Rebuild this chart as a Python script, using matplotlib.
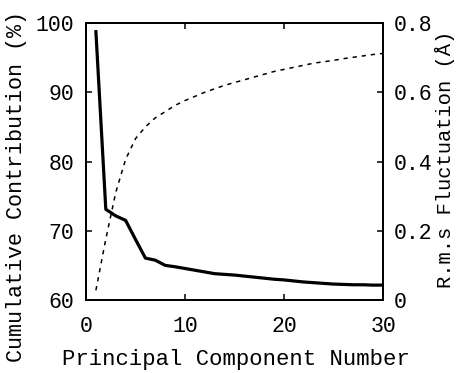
import matplotlib
matplotlib.use("Agg")
import matplotlib.pyplot as plt

# Principal component index
components = list(range(1, 31))

# Cumulative contribution of the components (%)
cumulative = [61.4, 68.8, 75.5, 80.3, 83.3, 85.0, 86.3, 87.2, 88.1, 88.8,
              89.4, 90.0, 90.5, 91.0, 91.4, 91.8, 92.2, 92.6, 93.0, 93.3,
              93.6, 93.9, 94.2, 94.4, 94.6, 94.85, 95.05, 95.25, 95.45, 95.6]

# R.m.s fluctuation along each component (Angstrom)
rms = [0.775, 0.262, 0.243, 0.230, 0.175, 0.121, 0.115, 0.100, 0.096, 0.091,
       0.086, 0.081, 0.076, 0.074, 0.072, 0.069, 0.066, 0.063, 0.060, 0.058,
       0.055, 0.052, 0.050, 0.048, 0.046, 0.045, 0.044, 0.044, 0.043, 0.043]

x_ticks = [0, 10, 20, 30]
left_ticks = [60, 70, 80, 90, 100]
right_ticks = [0, 0.2, 0.4, 0.6, 0.8]
right_labels = ["0", "0.2", "0.4", "0.6", "0.8"]

plt.rcParams["font.family"] = ["Liberation Mono", "DejaVu Sans Mono"]

W, H = 458, 373
fig = plt.figure(figsize=(W / 100, H / 100), dpi=100)
ax = fig.add_axes([86 / W, 1 - 300 / H, (383 - 86) / W, (300 - 23) / H])
ax2 = ax.twinx()

ax.plot(components, cumulative, color="black", lw=1.1, ls=(0, (2.8, 3.2)))
ax2.plot(components, rms, color="black", lw=2.3)

ax.set_xlim(0, 30)
ax.set_ylim(60, 100)
ax2.set_ylim(0, 0.8)
ax.set_xticks(x_ticks)
ax.set_yticks(left_ticks)
ax2.set_yticks(right_ticks)
ax2.set_yticklabels(right_labels)

for a in (ax, ax2):
    for s in a.spines.values():
        s.set_linewidth(1.3)
    a.tick_params(direction="in", length=4.2, width=1.1, labelsize=15.5)

ax.tick_params(axis="x", top=True, pad=11.5)
ax.tick_params(axis="y", pad=8.5)
ax2.tick_params(axis="y", pad=8)

# Axis titles placed in figure pixel coordinates
fig.text(236 / W, 1 - 359 / H, "Principal Component Number", fontsize=16,
         ha="center", va="center")
fig.text(17 / W, 1 - 187 / H, "Cumulative Contribution (%)", fontsize=15.7,
         rotation=90, ha="center", va="center")
fig.text(445 / W, 1 - 159 / H, "R.m.s Fluctuation (Å)", fontsize=14.8,
         rotation=90, ha="center", va="center")

fig.savefig("out.png", dpi=100)
